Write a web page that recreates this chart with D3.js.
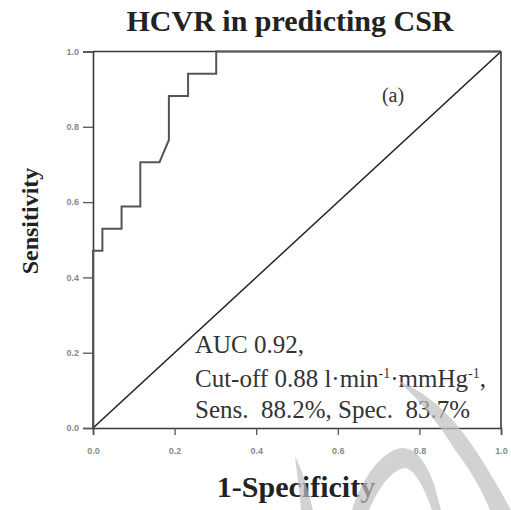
<!DOCTYPE html>
<html>
<head>
<meta charset="utf-8">
<script src="https://cdn.jsdelivr.net/npm/d3@7"></script>
<style>
  body { margin: 0; background: #fff; }
  svg { display: block; }
</style>
</head>
<body>
<div id="my_dataviz"></div>
<script>
// ROC curve points
var fpr = [0, 0, 0.023, 0.023, 0.07, 0.07, 0.116, 0.116, 0.163, 0.186, 0.186, 0.233, 0.233, 0.302, 0.302, 1];
var tpr = [0, 0.471, 0.471, 0.529, 0.529, 0.588, 0.588, 0.706, 0.706, 0.765, 0.882, 0.882, 0.941, 0.941, 1, 1];
var tickValues = [0, 0.2, 0.4, 0.6, 0.8, 1.0];
var chartTitle = "HCVR in predicting CSR";
var xLabel = "1-Specificity";
var yLabel = "Sensitivity";
var panelLabel = "(a)";
var aucText = "AUC 0.92,";
var cutoffText = "Cut-off 0.88 l·min";
var specText = "Sens.\u00a0 88.2%, Spec.\u00a0 83.7%";

// set the dimensions and margins of the graph
var margin = { top: 51.5, right: 10, bottom: 82, left: 93 },
  width = 511 - margin.left - margin.right,
  height = 510 - margin.top - margin.bottom;

var root = d3
  .select("#my_dataviz")
  .append("svg")
  .attr("width", 511)
  .attr("height", 510);

var svg = root
  .append("g")
  .attr("transform", "translate(" + margin.left + "," + margin.top + ")");

var x = d3.scaleLinear().domain([0, 1]).range([0, width]);
var y = d3.scaleLinear().domain([0, 1]).range([height, 0]);

var serif = "'Liberation Serif', 'Times New Roman', serif";
var axisColor = "#3a3a3a";

// x axis
var gx = svg
  .append("g")
  .attr("transform", "translate(0," + height + ")")
  .call(d3.axisBottom(x).tickValues(tickValues).tickFormat(d3.format(".1f")).tickSize(7).tickPadding(13));

// y axis
var gy = svg
  .append("g")
  .call(d3.axisLeft(y).tickValues(tickValues).tickFormat(d3.format(".1f")).tickSize(10).tickPadding(4));

[gx, gy].forEach(function (g) {
  g.select(".domain").attr("stroke", axisColor).attr("stroke-width", 1.6);
  g.selectAll(".tick line").attr("stroke", "#555").attr("stroke-width", 1.3);
  g.selectAll(".tick text")
    .attr("fill", "#888")
    .style("font-family", "'Liberation Sans', Arial, sans-serif")
    .style("font-weight", "bold")
    .style("font-size", "9px");
});

// frame top and right
svg.append("line")
  .attr("x1", x(0)).attr("x2", x(1)).attr("y1", y(1)).attr("y2", y(1))
  .attr("stroke", axisColor).attr("stroke-width", 1.6);
svg.append("line")
  .attr("x1", x(1)).attr("x2", x(1)).attr("y1", y(1)).attr("y2", y(0))
  .attr("stroke", axisColor).attr("stroke-width", 1.6);

// reference diagonal
svg.append("line")
  .attr("x1", x(0)).attr("y1", y(0)).attr("x2", x(1)).attr("y2", y(1))
  .attr("stroke", "#222").attr("stroke-width", 1.6);

// roc curve
var rocData = fpr.map(function (d, i) { return [d, tpr[i]]; });
svg.append("path")
  .datum(rocData)
  .attr("fill", "none")
  .attr("stroke", "#555")
  .attr("stroke-width", 2)
  .attr("d", d3.line().x(function (d) { return x(d[0]); }).y(function (d) { return y(d[1]); }));

// title and axis labels
root.append("text")
  .attr("x", 290).attr("y", 31)
  .attr("text-anchor", "middle")
  .style("font-family", serif).style("font-weight", "bold").style("font-size", "30px")
  .attr("fill", "#222")
  .text(chartTitle);

root.append("text")
  .attr("x", 296).attr("y", 497)
  .attr("text-anchor", "middle")
  .style("font-family", serif).style("font-weight", "bold").style("font-size", "30px")
  .attr("fill", "#222")
  .text(xLabel);

root.append("text")
  .attr("transform", "translate(38,221) rotate(-90)")
  .attr("text-anchor", "middle")
  .style("font-family", serif).style("font-weight", "bold").style("font-size", "24px")
  .attr("fill", "#222")
  .text(yLabel);

svg.append("text")
  .attr("x", 393 - margin.left).attr("y", 102 - margin.top)
  .attr("text-anchor", "middle")
  .style("font-family", serif).style("font-size", "20px")
  .attr("fill", "#333")
  .text(panelLabel);

// annotation
var note = svg.append("text")
  .style("font-family", serif).style("font-size", "25px")
  .attr("fill", "#333");
note.append("tspan").attr("x", 195 - margin.left).attr("y", 353 - margin.top).text(aucText);
var l2 = note.append("tspan").attr("x", 195 - margin.left).attr("y", 387 - margin.top);
l2.append("tspan").text(cutoffText);
l2.append("tspan").attr("dy", -9).style("font-size", "14px").text("-1");
l2.append("tspan").attr("dy", 9).text("·mmHg");
l2.append("tspan").attr("dy", -9).style("font-size", "14px").text("-1");
l2.append("tspan").attr("dy", 9).text(",");
note.append("tspan").attr("x", 195 - margin.left).attr("y", 418 - margin.top).text(specText);

// light grey watermark strokes over the lower right
var wm = root.append("g").attr("fill", "#c0c0c0").attr("opacity", 0.7);
wm.append("path").attr("d", "M295,456 C297,475 300,495 301,510 L313,510 C309,493 303,472 295,456 Z");
wm.append("path").attr("d", "M352,510 C360,485 374,460 394,450 C411,442 425,458 434,484 L441,510 L432,510 C425,490 416,470 405,468 C390,470 378,490 369,510 Z");
wm.append("path").attr("d", "M398,381 C422,390 447,410 467,438 C486,465 500,490 511,510 L490,510 C481,488 469,468 455,450 C440,425 420,400 398,381 Z");
</script>
</body>
</html>
